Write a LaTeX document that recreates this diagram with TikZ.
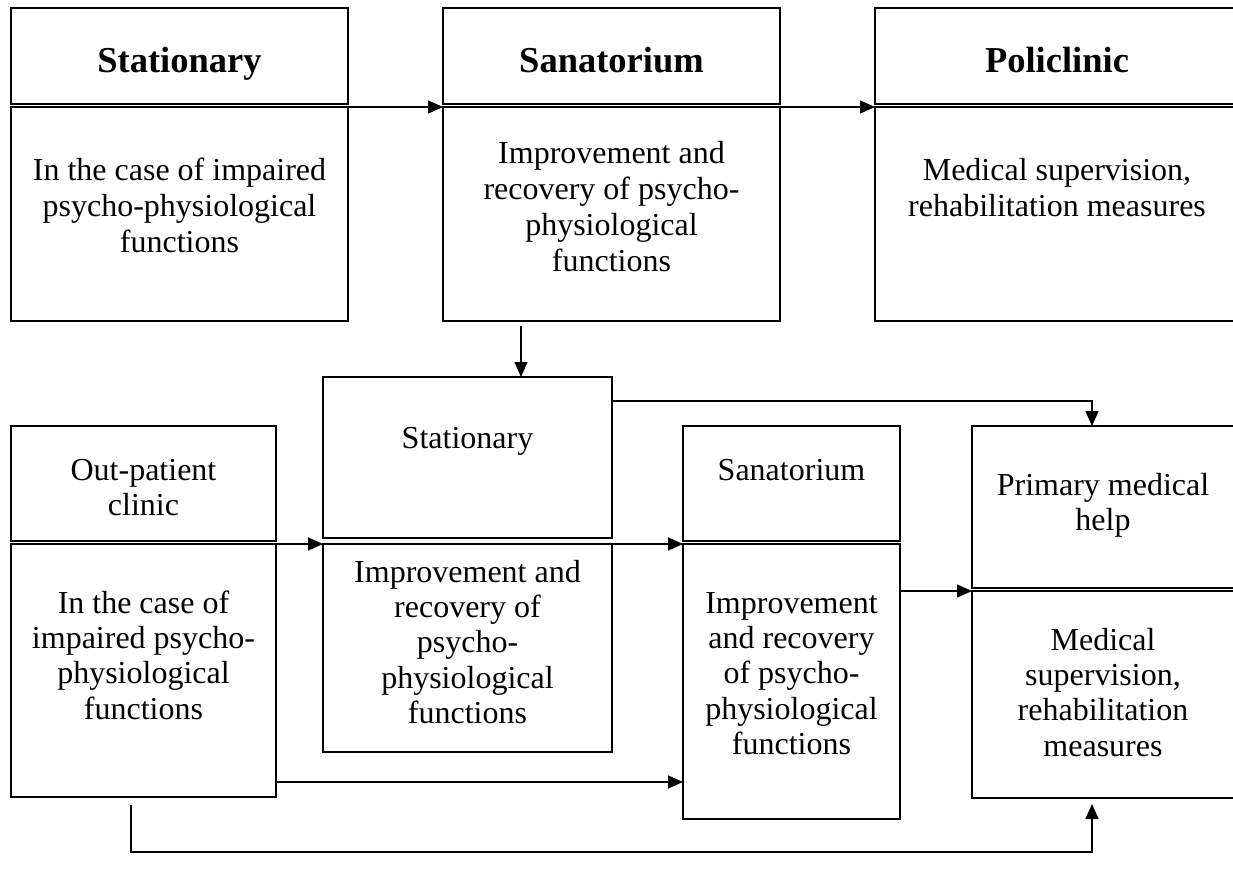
\documentclass[tikz,border=0pt]{standalone}
\usepackage{fontspec}
\setmainfont{Liberation Serif}
\usetikzlibrary{arrows.meta,calc}

% stacked, centred lines whose reference point is the first baseline
\newcommand{\boxlines}[1]{\begin{tabular}[t]{@{}c@{}}#1\end{tabular}}

\begin{document}
\begin{tikzpicture}[x=1pt,y=-1pt,
  frame/.style={draw, line width=1.8pt, rectangle, inner sep=0pt, outer sep=0pt, anchor=north west},
  arr/.style={line width=1.5pt, -{Triangle[length=15pt,width=13pt]}},
  title/.style={anchor=base, inner sep=0pt, font=\fontsize{36.5}{40}\selectfont\bfseries},
  txt/.style={anchor=base, inner sep=0pt, font=\fontsize{32}{36.3}\selectfont},
  txtb/.style={anchor=base, inner sep=0pt, font=\fontsize{32}{35.4}\selectfont},
]
\useasboundingbox (0,0) rectangle (1233,875);
\clip (0,0) rectangle (1233,875);

% ---------- upper chain ----------
\node[frame, minimum width=337pt, minimum height=96pt]  (aHead) at (11,8) {};
\node[frame, minimum width=337pt, minimum height=214pt] (aBody) at (11,107) {};
\node[frame, minimum width=337pt, minimum height=96pt]  (bHead) at (443,8) {};
\node[frame, minimum width=337pt, minimum height=214pt] (bBody) at (443,107) {};
\node[frame, minimum width=372pt, minimum height=96pt]  (cHead) at (875,8) {};
\node[frame, minimum width=372pt, minimum height=214pt] (cBody) at (875,107) {};

\node[title] (aTitle) at (179.5,72) {Stationary};
\node[title] (bTitle) at (611.5,72) {Sanatorium};
\node[title] (cTitle) at (1057,72) {Policlinic};

\node[txt] (aText) at (179.5,180) {\boxlines{In the case of impaired\\psycho-physiological\\functions}};
\node[txt] (bText) at (611.5,163) {\boxlines{Improvement and\\recovery of psycho-\\physiological\\functions}};
\node[txt] (cText) at (1057,180) {\boxlines{Medical supervision,\\rehabilitation measures}};

% ---------- lower network ----------
\node[frame, minimum width=265pt, minimum height=115pt] (oHead)  at (11,426) {};
\node[frame, minimum width=265pt, minimum height=253pt] (oBody)  at (11,544) {};
\node[frame, minimum width=289pt, minimum height=161pt] (stHead) at (323,377) {};
\node[frame, minimum width=289pt, minimum height=208pt] (stBody) at (323,544) {};
\node[frame, minimum width=217pt, minimum height=115pt] (sHead)  at (683,426) {};
\node[frame, minimum width=217pt, minimum height=275pt] (sBody)  at (683,544) {};
\node[frame, minimum width=275pt, minimum height=162pt] (pHead)  at (972,426) {};
\node[frame, minimum width=275pt, minimum height=207pt] (pBody)  at (972,591) {};

\node[txtb] (oTitle)  at (143.5,480) {\boxlines{Out-patient\\clinic}};
\node[txtb] (oText)   at (143.5,613) {\boxlines{In the case of\\impaired psycho-\\physiological\\functions}};
\node[txtb] (stTitle) at (467.5,448) {Stationary};
\node[txtb] (stText)  at (467.5,582) {\boxlines{Improvement and\\recovery of\\psycho-\\physiological\\functions}};
\node[txtb] (sTitle)  at (791.5,480) {Sanatorium};
\node[txtb] (sText)   at (791.5,613) {\boxlines{Improvement\\and recovery\\of psycho-\\physiological\\functions}};
\node[txtb] (pTitle)  at (1103,495) {\boxlines{Primary medical\\help}};
\node[txtb] (pText)   at (1103,650) {\boxlines{Medical\\supervision,\\rehabilitation\\measures}};

% ---------- connectors ----------
\draw[arr] (aBody.north east) -- (bBody.north west);
\draw[arr] (bBody.north east) -- (cBody.north west);

\coordinate (drop) at (521,326);
\draw[arr] (drop) -- (drop |- stHead.north);

\coordinate (turn) at (1092,401);
\draw[arr] (stHead.east |- turn) -| (pHead.north -| turn);

\draw[arr] (oBody.north east) -- (stBody.north west);
\draw[arr] (stBody.north east) -- (sBody.north west);

\coordinate (low) at (0,782);
\draw[arr] (oBody.east |- low) -- (sBody.west |- low);

\draw[arr] (sBody.east |- pBody.north) -- (pBody.north west);

\coordinate (loopStart) at (131,805);
\coordinate (loopBase) at (131,852);
\coordinate (loopEnd) at (1092,804);
\draw[arr] (loopStart) -- (loopBase) -| (loopEnd);

\end{tikzpicture}
\end{document}
